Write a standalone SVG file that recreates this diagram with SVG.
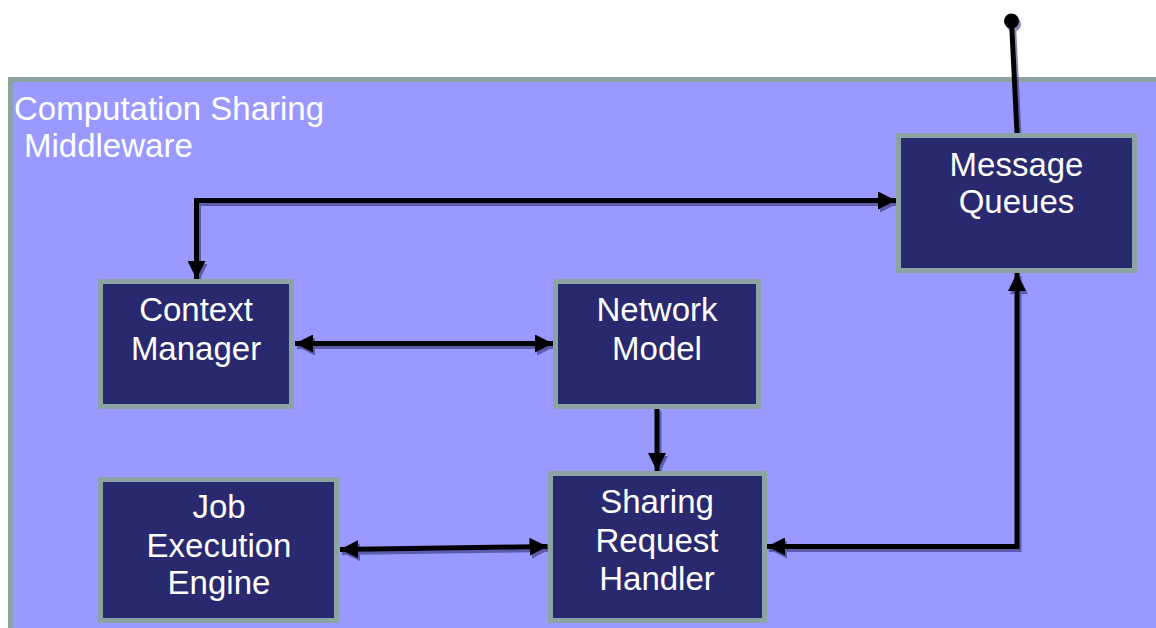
<svg xmlns="http://www.w3.org/2000/svg" width="1156" height="628" viewBox="0 0 1156 628">
<style>
.box{fill:#29296F;stroke:#8CA3A3;stroke-width:5}
.lbl{font-family:"Liberation Sans",Arial,sans-serif;font-size:33px;fill:#FFFFFF;text-anchor:middle}
.title{font-family:"Liberation Sans",Arial,sans-serif;font-size:33px;fill:#FFFFFF}
.con{fill:none;stroke:#000000;stroke-width:5}
</style>
<defs>
<marker id="ah" markerUnits="userSpaceOnUse" markerWidth="18" markerHeight="18" viewBox="0 0 16 16" refX="16" refY="8" orient="auto-start-reverse">
<path d="M0,0 L16,8 L0,16 Z" fill="#000"/>
</marker>
<filter id="sh" x="-10%" y="-10%" width="120%" height="130%">
<feDropShadow dx="2" dy="3" stdDeviation="0.6" flood-color="#2a2a66" flood-opacity="0.55"/>
</filter>
</defs>
<rect width="1156" height="628" fill="#FFFFFF"/>
<g id="container">
<rect x="10.5" y="79.5" width="1160" height="560" fill="#9999FF" stroke="#8CA3A3" stroke-width="5"/>
<text class="title" x="14" y="120">Computation Sharing</text>
<text class="title" x="24" y="157">Middleware</text>
</g>
<g id="connectors" filter="url(#sh)">
<path class="con" d="M896,200.5 L196.5,200.5 L196.5,279" marker-start="url(#ah)" marker-end="url(#ah)"/>
<path class="con" d="M295,343.5 L553,343.5" marker-start="url(#ah)" marker-end="url(#ah)"/>
<path class="con" d="M657,408 L657,471" marker-end="url(#ah)"/>
<path class="con" d="M340,549.5 L547.5,546.5" marker-start="url(#ah)" marker-end="url(#ah)"/>
<path class="con" d="M1017,273 L1017,546.5 L767,546.5" marker-start="url(#ah)" marker-end="url(#ah)"/>
<path class="con" d="M1017,133 L1011.5,21"/>
<circle cx="1011.5" cy="21" r="7.5" fill="#000"/>
</g>
<g id="message-queues">
<rect class="box" x="898.5" y="135.5" width="236" height="135"/>
<text class="lbl" x="1016.5" y="176">Message</text>
<text class="lbl" x="1016.5" y="213">Queues</text>
</g>
<g id="context-manager">
<rect class="box" x="100.5" y="281.5" width="191" height="125"/>
<text class="lbl" x="196" y="321">Context</text>
<text class="lbl" x="196" y="360">Manager</text>
</g>
<g id="network-model">
<rect class="box" x="555.5" y="281.5" width="203" height="125"/>
<text class="lbl" x="657" y="321">Network</text>
<text class="lbl" x="657" y="360">Model</text>
</g>
<g id="sharing-request-handler">
<rect class="box" x="550.5" y="473.5" width="214" height="147"/>
<text class="lbl" x="657" y="513">Sharing</text>
<text class="lbl" x="657" y="551.5">Request</text>
<text class="lbl" x="657" y="590">Handler</text>
</g>
<g id="job-execution-engine">
<rect class="box" x="100.5" y="479.5" width="236" height="141"/>
<text class="lbl" x="219" y="518">Job</text>
<text class="lbl" x="219" y="556.5">Execution</text>
<text class="lbl" x="219" y="594">Engine</text>
</g>
</svg>
